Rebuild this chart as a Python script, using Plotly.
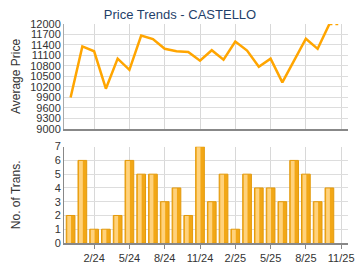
import plotly.graph_objects as go
from plotly.subplots import make_subplots

months = ["12/23","1/24","2/24","3/24","4/24","5/24","6/24","7/24","8/24","9/24","10/24","11/24",
          "12/24","1/25","2/25","3/25","4/25","5/25","6/25","7/25","8/25","9/25","10/25"]
avg_price = [9900, 11360, 11220, 10150, 11010, 10690, 11670, 11570, 11290, 11220, 11200, 10950,
             11250, 10980, 11500, 11240, 10780, 11010, 10330, 10950, 11580, 11290, 12000]
trans = [2, 6, 1, 1, 2, 6, 5, 5, 3, 4, 2, 7, 3, 5, 1, 5, 4, 4, 3, 6, 5, 3, 4]
tick_labels = ["2/24", "5/24", "8/24", "11/24", "2/25", "5/25", "8/25", "11/25"]
tick_idx = [2, 5, 8, 11, 14, 17, 20, 23]
price_ticks = [9000, 9300, 9600, 9900, 10200, 10500, 10800, 11100, 11400, 11700, 12000]
trans_ticks = [0, 1, 2, 3, 4, 5, 6, 7]

x = list(range(len(months)))
FONT = "Liberation Sans, Arial"

fig = make_subplots(rows=2, cols=1, shared_xaxes=False, vertical_spacing=0.08)

fig.add_trace(go.Scatter(x=x, y=avg_price, mode="lines",
                         line=dict(color="#FFA500", width=2.5), hoverinfo="skip"), row=1, col=1)
# dotted continuation at top edge
fig.add_trace(go.Scatter(x=[x[-1], x[-1] + 0.75], y=[avg_price[-1], avg_price[-1]], mode="lines",
                         line=dict(color="#FFA500", width=2.5, dash="dot"), hoverinfo="skip"), row=1, col=1)

fig.add_trace(go.Bar(x=x, y=trans, width=0.74, offset=-0.37,
                     marker=dict(color="#F2A716", line=dict(color="#E39A0C", width=1)),
                     hoverinfo="skip"), row=2, col=1)
fig.add_trace(go.Bar(x=x, y=[v - 0.04 for v in trans], width=0.32, offset=-0.28,
                     marker=dict(color="#FFD27C", line=dict(width=0)),
                     hoverinfo="skip"), row=2, col=1)

xr = [-0.56, 23.58]
common_x = dict(range=xr, tickvals=tick_idx, showgrid=True, gridcolor="#D8D8D8", gridwidth=1,
                zeroline=False, showline=True, linecolor="#888888", linewidth=2)
fig.update_xaxes(**common_x, showticklabels=False, ticks="", row=1, col=1)
fig.update_xaxes(**common_x, ticktext=tick_labels, showticklabels=True, ticks="outside",
                 ticklen=4, tickcolor="#888888", ticklabeloverflow="allow",
                 tickfont=dict(family=FONT, size=11, color="#333333"),
                 row=2, col=1)

fig.update_yaxes(range=[9000, 12000], tickvals=price_ticks, ticktext=[str(v) for v in price_ticks],
                 showgrid=True, gridcolor="#DDDDDD",
                 zeroline=False, showline=True, linecolor="#AAAAAA", linewidth=1,
                 tickfont=dict(family=FONT, size=11, color="#333333"),
                 title=dict(text="Average Price", font=dict(family=FONT, size=12, color="#333333"), standoff=6),
                 row=1, col=1)
fig.update_yaxes(range=[0, 7], tickvals=trans_ticks, showgrid=True, gridcolor="#DDDDDD",
                 zeroline=False, showline=True, linecolor="#888888", linewidth=1,
                 tickfont=dict(family=FONT, size=11, color="#333333"),
                 title=dict(text="No. of Trans.", font=dict(family=FONT, size=12, color="#333333"), standoff=31),
                 row=2, col=1)

fig.update_layout(
    width=360, height=270,
    margin=dict(l=64, r=6, t=24, b=26),
    paper_bgcolor="white", plot_bgcolor="white",
    showlegend=False, barmode="overlay",
    title=dict(text="Price Trends - CASTELLO", x=0.5, xanchor="center", y=0.945, yanchor="middle",
               font=dict(family=FONT, size=13, color="#1F3F6A")),
)
fig.layout.yaxis.domain = [0.521, 1.0]
fig.layout.yaxis2.domain = [0.0, 0.44]

fig.write_html("out.html")
